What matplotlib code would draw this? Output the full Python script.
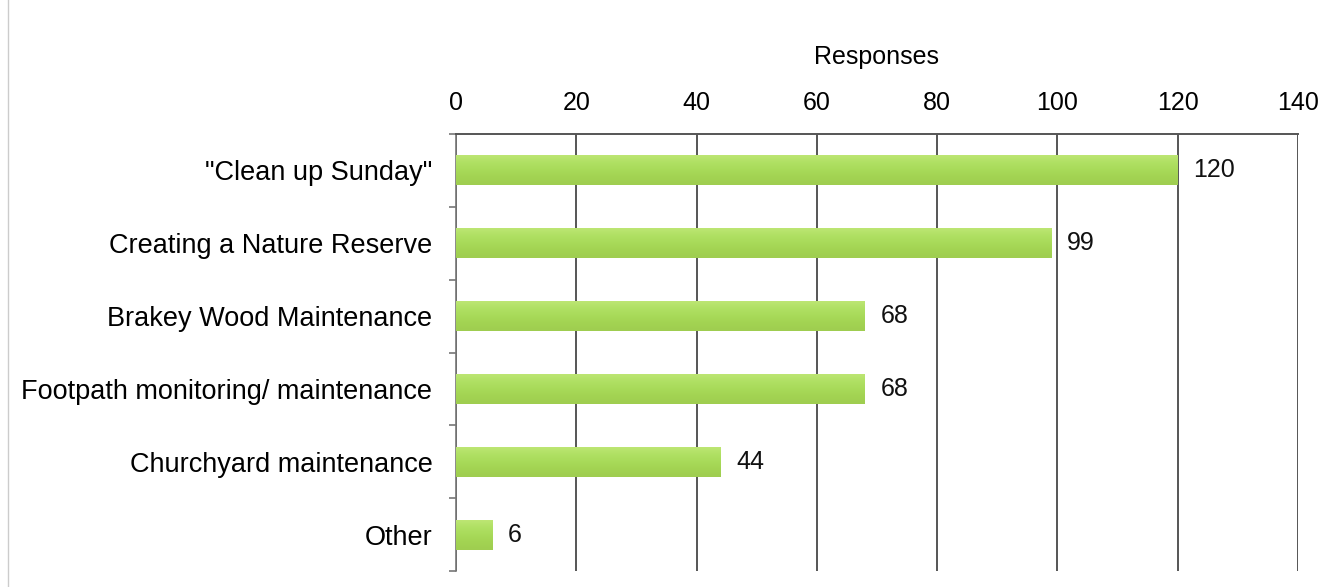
import matplotlib
matplotlib.use("Agg")
import matplotlib.pyplot as plt
import numpy as np
from matplotlib.lines import Line2D
from matplotlib.colors import LinearSegmentedColormap

categories = ['"Clean up Sunday"', 'Creating a Nature Reserve', 'Brakey Wood Maintenance',
              'Footpath monitoring/ maintenance', 'Churchyard maintenance', 'Other']
values = [120, 99, 68, 68, 44, 6]
xticks = [0, 20, 40, 60, 80, 100, 120, 140]

plt.rcParams['font.family'] = ['Liberation Sans', 'DejaVu Sans']

W, H = 1327, 587
fig = plt.figure(figsize=(W/100, H/100), dpi=100)
ax = fig.add_axes([456/W, 1-571/H, (1298-456)/W, (571-134)/H])

y = np.arange(len(categories))
bh = 0.41
bars = ax.barh(y, values, height=bh, color='#a8da5a', edgecolor='none', zorder=3)

# vertical gradient on each bar
grad = np.linspace(0, 1, 64).reshape(-1, 1)
cmap = LinearSegmentedColormap.from_list('g', ['#bde673', '#afe063', '#a8da59', '#a2d352', '#9fcd50'])
for b in bars:
    x0, y0 = b.get_x(), b.get_y()
    w, h = b.get_width(), b.get_height()
    ax.imshow(grad, extent=(x0, x0 + w, y0 + h, y0), aspect='auto', cmap=cmap,
              zorder=4, interpolation='bicubic')

for yi, v in zip(y, values):
    ax.text(v + 2.6, yi, str(v), va='center', ha='left', fontsize=18, color='#111111', zorder=5)

ax.set_xlim(0, 140)
ax.set_ylim(len(categories) - 0.5, -0.5)
ax.set_xticks(xticks)
ax.xaxis.tick_top()
ax.xaxis.set_label_position('top')
ax.set_xlabel('Responses', fontsize=18, labelpad=19)
ax.tick_params(axis='x', length=0, pad=14, labelsize=18)
ax.grid(axis='x', color='#555555', linewidth=1.4, zorder=1)

ax.set_yticks(y)
ax.set_yticklabels(categories, fontsize=19.5)
ax.set_yticks(np.arange(-0.5, len(categories) - 0.4, 1), minor=True)
ax.tick_params(axis='y', which='major', length=0, pad=17)
ax.tick_params(axis='y', which='minor', length=5, width=1.2, color='#777777')

for s in ['right', 'bottom']:
    ax.spines[s].set_visible(False)
ax.spines['top'].set_color('#555555')
ax.spines['top'].set_linewidth(1.4)
ax.spines['left'].set_color('#777777')
ax.spines['left'].set_linewidth(1.2)

fig.add_artist(Line2D([8/W, 8/W], [0, 1], color='#cccccc', linewidth=1))

fig.savefig('out.png', dpi=100)
